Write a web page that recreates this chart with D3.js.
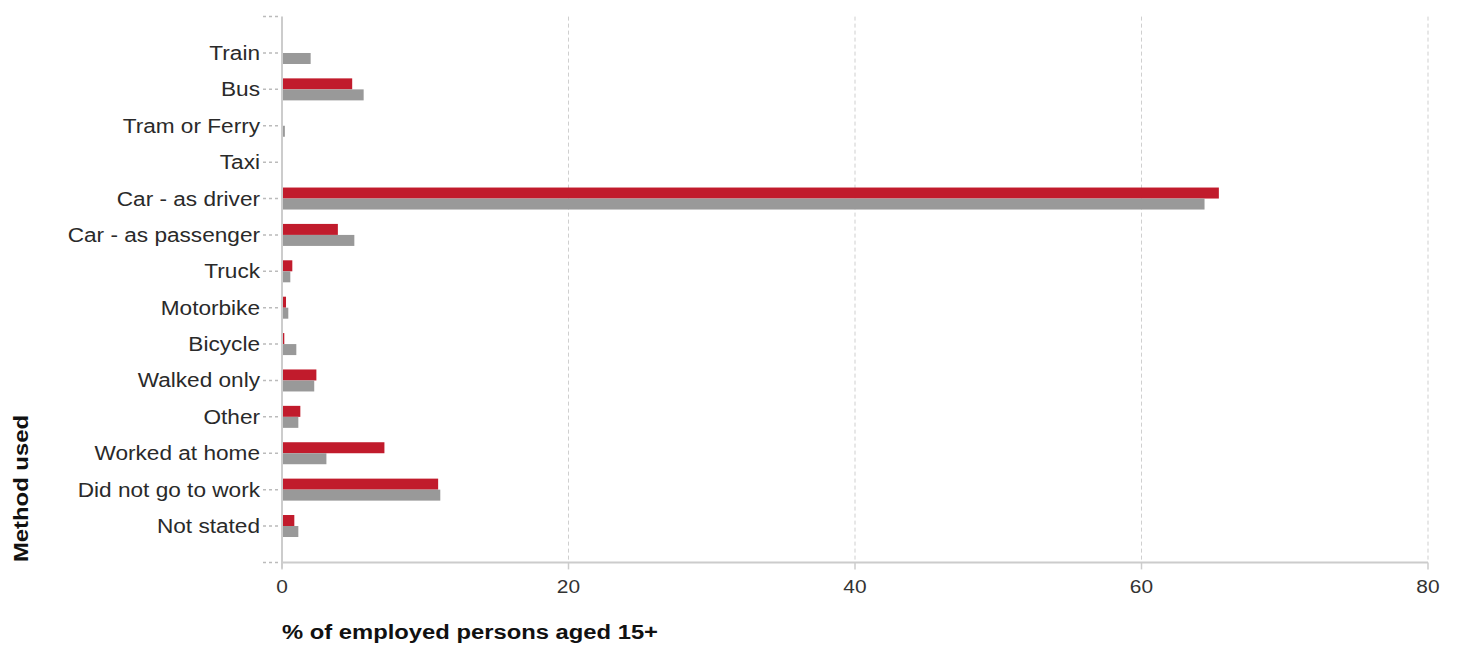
<!DOCTYPE html>
<html>
<head>
<meta charset="utf-8">
<script src="https://cdn.jsdelivr.net/npm/d3@7"></script>
<style>
  html, body { margin: 0; padding: 0; background: #fff; }
  svg { display: block; }
</style>
</head>
<body>
<svg id="chart" width="1459" height="651"></svg>
<script>
const categories = ["Train", "Bus", "Tram or Ferry", "Taxi", "Car - as driver", "Car - as passenger",
  "Truck", "Motorbike", "Bicycle", "Walked only", "Other", "Worked at home", "Did not go to work", "Not stated"];
const seriesRed = [0, 4.9, 0, 0, 65.4, 3.9, 0.72, 0.28, 0.16, 2.4, 1.28, 7.15, 10.9, 0.86];
const seriesGray = [2.0, 5.7, 0.2, 0, 64.4, 5.05, 0.58, 0.44, 1.0, 2.25, 1.14, 3.1, 11.05, 1.14];
const xTicks = [0, 20, 40, 60, 80];
const xTitle = "% of employed persons aged 15+";
const yTitle = "Method used";

(function () {
const svg = d3.select("#chart");
const pLeft = 282, pRight = 1428, pTop = 16.6, pBottom = 562.4;

const x = d3.scaleLinear().domain([0, 80]).range([pLeft, pRight]);
const y = d3.scalePoint().domain(categories).range([pTop, pBottom]).padding(1);
const barH = 11;

// grid lines
svg.append("g").selectAll("line").data(xTicks.filter(d => d > 0)).join("line")
  .attr("x1", d => x(d)).attr("x2", d => x(d))
  .attr("y1", pTop).attr("y2", pBottom)
  .attr("stroke", "#cfcfcf").attr("stroke-width", 1)
  .attr("stroke-dasharray", "4,3");

// bars
const g = svg.append("g");
g.selectAll("rect.red").data(categories).join("rect")
  .attr("class", "red")
  .attr("x", x(0))
  .attr("y", d => y(d) - barH)
  .attr("width", (d, i) => x(seriesRed[i]) - x(0))
  .attr("height", barH)
  .attr("fill", "#c11b2c");
g.selectAll("rect.gray").data(categories).join("rect")
  .attr("class", "gray")
  .attr("x", x(0))
  .attr("y", d => y(d))
  .attr("width", (d, i) => x(seriesGray[i]) - x(0))
  .attr("height", barH)
  .attr("fill", "#999999");

// y axis line
svg.append("line").attr("x1", pLeft).attr("x2", pLeft).attr("y1", pTop).attr("y2", pBottom + 6)
  .attr("stroke", "#cccccc").attr("stroke-width", 2);
// x axis line
svg.append("line").attr("x1", pLeft).attr("x2", pRight).attr("y1", pBottom).attr("y2", pBottom)
  .attr("stroke", "#cccccc").attr("stroke-width", 2);
// x ticks
svg.append("g").selectAll("line").data(xTicks).join("line")
  .attr("x1", d => x(d)).attr("x2", d => x(d))
  .attr("y1", pBottom).attr("y2", pBottom + 7)
  .attr("stroke", "#cccccc").attr("stroke-width", 1.5);
svg.append("g").selectAll("text").data(xTicks).join("text")
  .attr("transform", d => `translate(${x(d)},${593}) scale(1.1,1)`)
  .attr("text-anchor", "middle")
  .attr("font-family", "Liberation Sans, Arial, sans-serif")
  .attr("font-size", 19)
  .attr("fill", "#333")
  .text(d => d);

// y ticks (dashed)
const yTickPos = [pTop, ...categories.map(c => y(c)), pBottom];
svg.append("g").selectAll("line").data(yTickPos).join("line")
  .attr("x1", 263).attr("x2", 281)
  .attr("y1", d => d).attr("y2", d => d)
  .attr("stroke", "#bbbbbb").attr("stroke-width", 1.5)
  .attr("stroke-dasharray", "3,3");

// category labels
svg.append("g").selectAll("text").data(categories).join("text")
  .attr("transform", d => `translate(260,${y(d) + 7}) scale(1.16,1)`)
  .attr("text-anchor", "end")
  .attr("font-family", "Liberation Sans, Arial, sans-serif")
  .attr("font-size", 19.5)
  .attr("fill", "#2a2a2a")
  .text(d => d);

// titles
svg.append("text")
  .attr("x", 282).attr("y", 639)
  .attr("font-family", "Liberation Sans, Arial, sans-serif")
  .attr("font-weight", "bold")
  .attr("font-size", 20)
  .attr("textLength", 376).attr("lengthAdjust", "spacingAndGlyphs")
  .attr("fill", "#111")
  .text(xTitle);

svg.append("text")
  .attr("transform", "translate(28,562) rotate(-90)")
  .attr("x", 0).attr("y", 0)
  .attr("font-family", "Liberation Sans, Arial, sans-serif")
  .attr("font-weight", "bold")
  .attr("font-size", 20)
  .attr("textLength", 147).attr("lengthAdjust", "spacingAndGlyphs")
  .attr("fill", "#111")
  .text(yTitle);
})();
</script>
</body>
</html>
